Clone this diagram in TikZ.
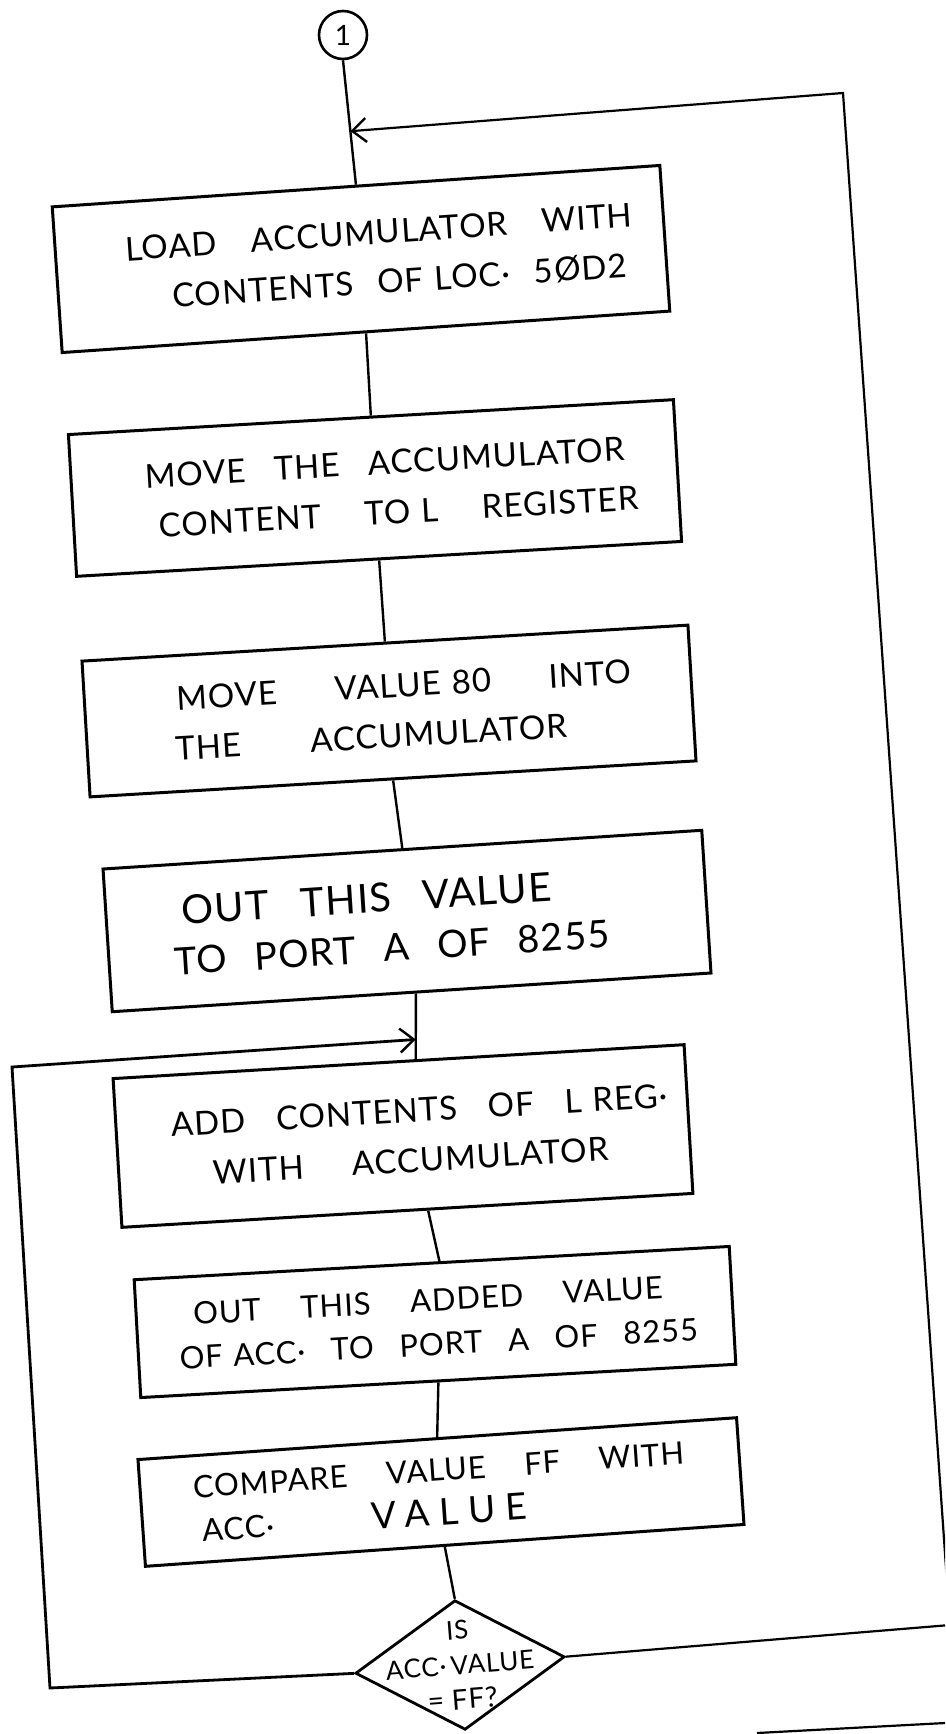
\documentclass[tikz,border=0pt]{standalone}
\usepackage{fontspec}
\setmainfont{Lato}[LetterSpace=3]
\usetikzlibrary{shapes.geometric,arrows.meta,calc}

% one line of a step: indent, total width, words spread with \hfill
\newcommand\stepline[3]{\hspace*{#1}\makebox[#2][s]{#3}}

\tikzset{
  blk/.style={draw, line width=3pt, inner sep=0pt, align=left,
    font=\fontsize{33}{50}\selectfont},
  decision/.style={draw, diamond, line width=2.8pt, inner sep=0pt},
  flow/.style={line width=2.4pt},
  loopline/.style={line width=2.8pt},
  rloop/.style={line width=2.2pt},
  tip/.style={-{Straight Barb[length=14pt,width=24pt,line width=2.4pt]}},
}

\begin{document}
\begin{tikzpicture}[x=1pt,y=-1pt]
\useasboundingbox (0,0) rectangle (945,1734);
\clip (0,0) rectangle (945,1734);

% connector symbol
\node[circle, draw, line width=2.6pt, minimum size=48pt, inner sep=0pt,
      font=\fontsize{28}{28}\selectfont] (c1) at (343,35) {1};

% process steps
\node[blk, rotate=3.9, minimum width=609pt, text width=609pt, minimum height=146pt] (b1) at (361,259)
  {\stepline{70pt}{508pt}{LOAD\hfill ACCUMULATOR\hfill WITH}\\
   \stepline{114pt}{455pt}{CONTENTS\hfill OF LOC·\hfill 5ØD2}};

\node[blk, rotate=3.3, minimum width=606pt, text width=606pt, minimum height=142pt] (b2) at (375,488)
  {\stepline{74pt}{480pt}{MOVE\hfill THE\hfill ACCUMULATOR}\\
   \stepline{85pt}{480pt}{CONTENT\hfill TO L\hfill REGISTER}};

\node[blk, rotate=3.4, minimum width=607pt, text width=607pt, minimum height=136pt] (b3) at (389,711)
  {\stepline{92pt}{455pt}{MOVE\hfill VALUE 80\hfill INTO}\\
   \stepline{88pt}{392pt}{THE\hfill ACCUMULATOR}};

\node[blk, rotate=3.7, minimum width=600pt, text width=600pt, minimum height=143pt] (b4) at (407,921)
  {\stepline{76pt}{370pt}{\fontsize{40}{50}\selectfont OUT\hfill THIS\hfill VALUE}\\
   \stepline{65pt}{436pt}{\fontsize{38}{50}\selectfont TO\hfill PORT\hfill A\hfill OF\hfill 8255}};

\node[blk, rotate=3.4, minimum width=572pt, text width=572pt, minimum height=149pt] (b5) at (403,1136)
  {\stepline{55pt}{497pt}{ADD\hfill CONTENTS\hfill OF\hfill L REG·}\\
   \stepline{94pt}{396pt}{WITH\hfill ACCUMULATOR}};

\node[blk, rotate=3.2, minimum width=596pt, text width=596pt, minimum height=118pt,
      font=\fontsize{31}{44}\selectfont] (b6) at (435,1322)
  {\stepline{57pt}{470pt}{OUT\hfill THIS\hfill ADDED\hfill VALUE}\\
   \stepline{41pt}{519pt}{OF ACC·\hfill TO\hfill PORT\hfill A\hfill OF\hfill 8255}};

\node[blk, rotate=4.0, minimum width=600pt, text width=600pt, minimum height=107pt,
      font=\fontsize{31}{44}\selectfont] (b7) at (441,1492)
  {\stepline{53pt}{492pt}{COMPARE\hfill VALUE\hfill FF\hfill WITH}\\
   \stepline{59pt}{326pt}{ACC·\hfill {\fontsize{37}{44}\selectfont\addfontfeature{LetterSpace=28}VALUE}}};

% decision
\node[decision, rotate=4.5, minimum width=210pt, minimum height=130pt] (dia) at (460,1665) {};
\node[rotate=4.5, align=center, inner sep=0pt, font=\fontsize{26}{35}\selectfont]
  (dialbl) at (dia.center) {IS\\ACC·\,VALUE\\{\fontsize{28}{35}\selectfont = FF?}};

% where the vertical links meet the box edges
\coordinate (b4o) at ($(b4.south west)!0.507!(b4.south east)$);
\coordinate (b5i) at ($(b5.north west)!0.53!(b5.north east)$);
\coordinate (b5o) at ($(b5.south west)!0.536!(b5.south east)$);
\coordinate (b6i) at ($(b6.north west)!0.513!(b6.north east)$);

% joins on the main line
\coordinate (m1) at ($(c1.south)!0.57!(b1.north)$);
\coordinate (m2) at ($(b4o)!0.7!(b5i)$);

% loop corners
\coordinate (rt) at (843,93);
\coordinate (rb) at (950,1625);
\coordinate (lt) at (12,1067);
\coordinate (lb) at (50,1688);

% main flow
\draw[flow] (c1.south) -- (b1.north);
\draw[flow] (b1.south) -- (b2.north);
\draw[flow] (b2.south) -- (b3.north);
\draw[flow] (b3.south) -- (b4.north);
\draw[flow] (b4o) -- (b5i);
\draw[flow] (b5o) -- (b6i);
\draw[flow] (b6.south) -- (b7.north);
\draw[flow] (b7.south) -- (dia.north);

% return paths
\draw[rloop, tip] (dia.east) -- (rb) -- (rt) -- (m1);
\draw[loopline, tip] (dia.west) -- (lb) -- (lt) -- (m2);

% stray stroke along the bottom edge
\coordinate (e1) at (757,1733);
\coordinate (e2) at (945,1723);
\draw[line width=2.2pt] (e1) -- (e2);
\end{tikzpicture}
\end{document}
